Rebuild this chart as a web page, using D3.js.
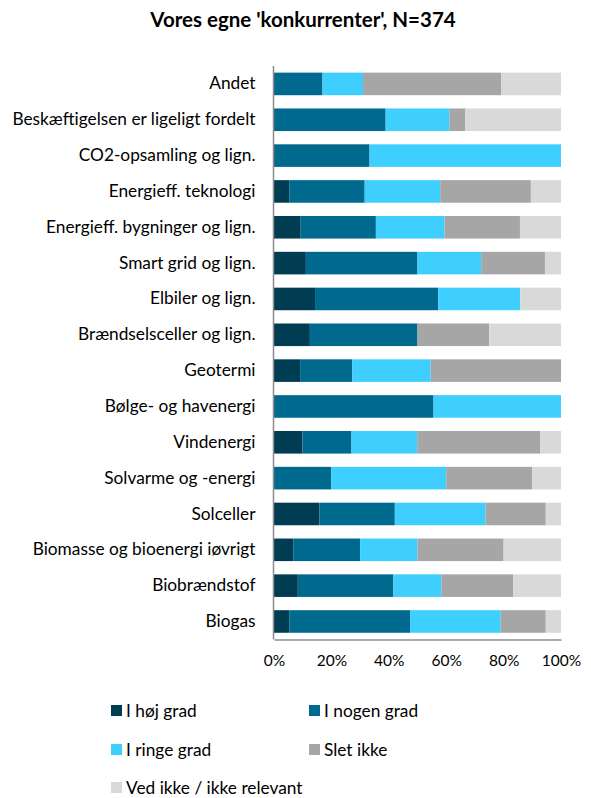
<!DOCTYPE html>
<html>
<head>
<meta charset="utf-8">
<script src="https://cdn.jsdelivr.net/npm/d3@7"></script>
<style>
  html, body { margin: 0; padding: 0; background: #fff; }
  svg { display: block; font-family: Lato, "Open Sans", sans-serif; }
</style>
</head>
<body>
<svg id="chart" width="591" height="798"></svg>
<script>
const title = "Vores egne 'konkurrenter', N=374";
const categories = [
  "Andet",
  "Beskæftigelsen er ligeligt fordelt",
  "CO2-opsamling og lign.",
  "Energieff. teknologi",
  "Energieff. bygninger og lign.",
  "Smart grid og lign.",
  "Elbiler og lign.",
  "Brændselsceller og lign.",
  "Geotermi",
  "Bølge- og havenergi",
  "Vindenergi",
  "Solvarme og -energi",
  "Solceller",
  "Biomasse og bioenergi iøvrigt",
  "Biobrændstof",
  "Biogas"
];
const seriesNames = ["I høj grad", "I nogen grad", "I ringe grad", "Slet ikke", "Ved ikke / ikke relevant"];
const hoejGrad   = [0,    0,    0,    5.3,  9.3,  11.1, 14.3, 12.5, 9.1,  0,    9.9,  0,    15.8, 6.7,  8.3,  5.3];
const nogenGrad  = [16.9, 38.9, 33.3, 26.3, 26.2, 38.9, 42.9, 37.5, 18.2, 55.6, 17.1, 20.0, 26.3, 23.3, 33.3, 42.1];
const ringeGrad  = [14.1, 22.2, 66.7, 26.3, 23.9, 22.2, 28.6, 0,    27.3, 44.4, 22.9, 40.0, 31.6, 20.0, 16.7, 31.6];
const sletIkke   = [48.1, 5.6,  0,    31.6, 26.3, 22.2, 0,    25.0, 45.4, 0,    42.9, 30.0, 21.0, 30.0, 25.0, 15.7];
const vedIkke    = [20.9, 33.3, 0,    10.5, 14.3, 5.6,  14.2, 25.0, 0,    0,    7.2,  10.0, 5.3,  20.0, 16.7, 5.3];
const xTicks = [0, 20, 40, 60, 80, 100];
const colors = ["#003D52", "#006A8E", "#3FCFFF", "#A6A6A6", "#D9D9D9"];

const series = [hoejGrad, nogenGrad, ringeGrad, sletIkke, vedIkke];
const rows = categories.map((c, i) => {
  const r = { cat: c };
  seriesNames.forEach((s, k) => r[s] = series[k][i]);
  return r;
});
const stacked = d3.stack().keys(seriesNames)(rows);

const FONT = "Lato, 'Open Sans', sans-serif";
const svg = d3.select("#chart");
const x = d3.scaleLinear().domain([0, 100]).range([274, 561]);
const y = d3.scaleBand().domain(categories).range([66, 639.4]).paddingInner(0.37).paddingOuter(0.185);

svg.append("text")
  .attr("x", 303).attr("y", 27)
  .attr("text-anchor", "middle")
  .attr("font-size", 20.5).attr("font-weight", "bold").attr("fill", "#000")
  .text(title);

svg.append("g").selectAll("g")
  .data(stacked).join("g")
  .attr("fill", (d, i) => colors[i])
  .selectAll("rect")
  .data(d => d).join("rect")
  .attr("x", d => x(d[0]))
  .attr("width", d => Math.max(0, x(d[1]) - x(d[0])))
  .attr("y", d => y(d.data.cat))
  .attr("height", y.bandwidth());

// y axis
const yAxis = svg.append("g").attr("transform", "translate(273.5,0)")
  .call(d3.axisLeft(y).tickSize(0).tickPadding(18));
yAxis.select(".domain").attr("stroke", "#8C8C8C").attr("stroke-width", 1.5).attr("d", "M0,66V639.4");
yAxis.selectAll("text").attr("font-size", 17.3).attr("fill", "#000").attr("font-family", FONT);

// x axis
const xAxis = svg.append("g").attr("transform", "translate(0,639.4)")
  .call(d3.axisBottom(x).tickValues(xTicks).tickFormat(d => d + "%").tickSize(0).tickPadding(16));
xAxis.select(".domain").attr("stroke", "#8C8C8C").attr("stroke-width", 1.5);
xAxis.selectAll("text").attr("font-size", 15.5).attr("fill", "#000").attr("font-family", FONT);

// legend
const legendPos = [[111, 711], [309, 711], [111, 750], [309, 750], [111, 788]];
const lg = svg.append("g").selectAll("g").data(seriesNames).join("g")
  .attr("transform", (d, i) => `translate(${legendPos[i][0]},${legendPos[i][1]})`);
lg.append("rect").attr("x", 0).attr("y", -6).attr("width", 11).attr("height", 11).attr("fill", (d, i) => colors[i]);
lg.append("text").attr("x", 15).attr("y", 0).attr("dy", "0.35em")
  .attr("font-size", 17.3).attr("fill", "#000").text(d => d);
</script>
</body>
</html>
